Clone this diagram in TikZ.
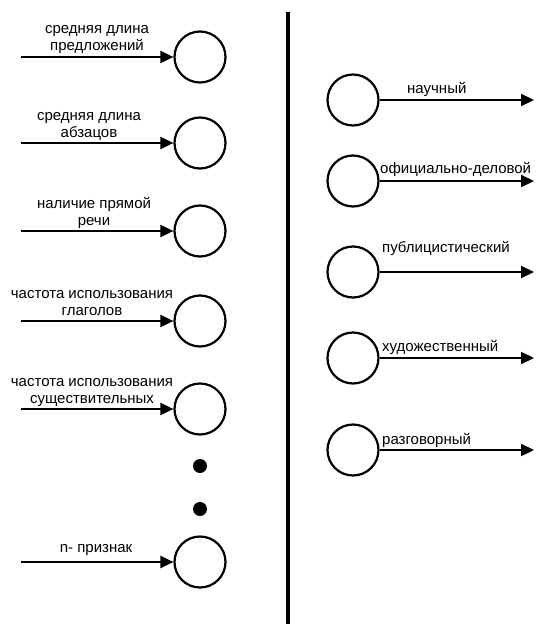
\documentclass[tikz,border=0pt]{standalone}
\usepackage{fontspec}
\setmainfont{Liberation Sans}
\usetikzlibrary{arrows.meta}
\begin{document}
\begin{tikzpicture}[x=1pt,y=-1pt,
  circ/.style={circle,draw,line width=2.2pt,minimum size=51pt,inner sep=0pt},
  arr/.style={line width=2.2pt,-{Triangle[length=13pt,width=12pt]}},
  lbl/.style={font=\fontsize{15}{17}\selectfont,align=center,inner sep=0pt},
  rlbl/.style={font=\fontsize{15}{17}\selectfont,anchor=base west,inner sep=0pt},
  dotn/.style={circle,fill,minimum size=14pt,inner sep=0pt}]
\useasboundingbox (0,0) rectangle (536,624);
% left column
\foreach \n/\y in {1/57,2/143,3/231,4/321,5/409,6/562}{
  \node[circ] (L\n) at (200,\y) {};
  \coordinate (S\n) at (21,\y);
  \draw[arr] (S\n) -- (L\n.west);
}
\node[lbl,anchor=base] (t1) at (97,50) {средняя длина\\предложений};
\node[lbl,anchor=base] (t2) at (89,137) {средняя длина\\абзацов};
\node[lbl,anchor=base] (t3) at (94,225) {наличие прямой\\речи};
\node[lbl,anchor=base] (t4) at (92,315) {частота использования\\глаголов};
\node[lbl,anchor=base] (t5) at (92,403) {частота использования\\существительных};
\node[lbl,anchor=base] (t6) at (96,552) {n- признак};
\node[dotn] (d1) at (200,466) {};
\node[dotn] (d2) at (200,509) {};
% divider
\coordinate (V1) at (288,12);
\coordinate (V2) at (288,624);
\draw[line width=4.5pt] (V1) -- (V2);
% right column
\foreach \n/\y in {1/100,2/181,3/272,4/358,5/450}{
  \node[circ] (R\n) at (353,\y) {};
  \coordinate (E\n) at (534,\y);
  \draw[arr] (R\n.east) -- (E\n);
}
\node[rlbl] (r1) at (407,93) {научный};
\node[rlbl] (r2) at (380,173) {официально-деловой};
\node[rlbl] (r3) at (382,252) {публицистический};
\node[rlbl] (r4) at (382,351) {художественный};
\node[rlbl] (r5) at (382,444) {разговорный};
\end{tikzpicture}
\end{document}
